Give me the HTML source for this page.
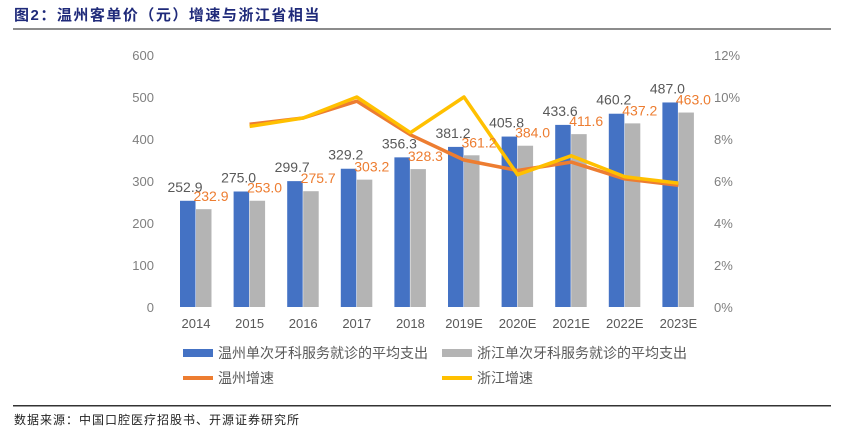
<!DOCTYPE html>
<html><head><meta charset="utf-8"><style>
body{margin:0;background:#fff;width:845px;height:434px;overflow:hidden;font-family:"Liberation Sans","Noto Sans CJK SC",sans-serif;}
</style></head><body>
<svg id="c" width="845" height="434" xmlns="http://www.w3.org/2000/svg"></svg>
<script>
const categories=["2014","2015","2016","2017","2018","2019E","2020E","2021E","2022E","2023E"];
const wzSpend=[252.9,275.0,299.7,329.2,356.3,381.2,405.8,433.6,460.2,487.0];
const zjSpend=[232.9,253.0,275.7,303.2,328.3,361.2,384.0,411.6,437.2,463.0];
const wzGrowth=[null,8.7,9.0,9.8,8.2,7.0,6.5,6.9,6.1,5.8];
const zjGrowth=[null,8.6,9.0,10.0,8.3,10.0,6.3,7.2,6.2,5.9];
const leftTicks=[0,100,200,300,400,500,600];
const rightTicks=[0,2,4,6,8,10,12];
const svg=document.getElementById('c');
const NS="http://www.w3.org/2000/svg";
function mk(t,a,txt){const e=document.createElementNS(NS,t);for(const k in a)e.setAttribute(k,a[k]);if(txt!==undefined)e.textContent=txt;svg.appendChild(e);return e;}
const y0=307,yTop=55;
const yL=v=>y0-(v/600)*(y0-yTop);
const yR=v=>y0-(v/12)*(y0-yTop);
const xC=i=>196+i*53.6;
let e;
e=mk('text',{x:14,y:20,'font-size':15,'font-weight':'bold',fill:'#1f2a7a','letter-spacing':'1.5'},'图2：温州客单价（元）增速与浙江省相当');

e=mk('rect',{x:13,y:28,width:818,height:2,fill:'#8c8c8c'});

leftTicks.forEach(v=>{e=mk('text',{x:154,y:yL(v)+5,'font-size':13,fill:'#7f7f7f','text-anchor':'end'},v);
});
rightTicks.forEach(v=>{e=mk('text',{x:714,y:yR(v)+5,'font-size':13,fill:'#7f7f7f'},v+'%');
});
categories.forEach((c,i)=>{e=mk('text',{x:xC(i),y:328,'font-size':13,fill:'#595959','text-anchor':'middle'},c);
});
categories.forEach((c,i)=>{
 const x=xC(i);
 e=mk('rect',{x:x-16,y:yL(wzSpend[i]),width:15.5,height:y0-yL(wzSpend[i]),fill:'#4472c4'});
 
 e=mk('rect',{x:x,y:yL(zjSpend[i]),width:15.5,height:y0-yL(zjSpend[i]),fill:'#b4b4b4'});
 
});
function line(arr,color,w,name){
 let d='';arr.forEach((v,i)=>{if(v==null)return;d+=(d?'L':'M')+xC(i)+' '+yR(v);});
 e=mk('path',{d:d,fill:'none',stroke:color,'stroke-width':w,'stroke-linejoin':'round'});
 
}
line(wzGrowth,'#ed7d31',3.5,'wenzhou-growth-line');
line(zjGrowth,'#ffc000',3.5,'zhejiang-growth-line');
categories.forEach((c,i)=>{
 const x=xC(i);
 e=mk('text',{x:x-11,y:yL(wzSpend[i])-9,'font-size':14,fill:'#595959','text-anchor':'middle'},wzSpend[i].toFixed(1));
 
 e=mk('text',{x:x+15,y:yL(zjSpend[i])-8,'font-size':14,fill:'#ed7d31','text-anchor':'middle'},zjSpend[i].toFixed(1));
 
});
const leg=[[183,353,'rect','#4472c4','温州单次牙科服务就诊的平均支出'],[442,353,'rect','#b4b4b4','浙江单次牙科服务就诊的平均支出'],[183,378,'line','#ed7d31','温州增速'],[442,378,'line','#ffc000','浙江增速']];
leg.forEach(l=>{
 if(l[2]=='rect')e=mk('rect',{x:l[0],y:l[1]-4,width:30,height:8,fill:l[3]});
 else e=mk('rect',{x:l[0],y:l[1]-2,width:30,height:4,fill:l[3]});
 
 e=mk('text',{x:l[0]+35,y:l[1]+5,'font-size':14,fill:'#595959'},l[4]);
 
});
e=mk('rect',{x:13,y:405,width:818,height:1.5,fill:'#333'});

e=mk('text',{x:14,y:424,'font-size':12,fill:'#222','letter-spacing':'1'},'数据来源：中国口腔医疗招股书、开源证券研究所');

</script>
</body></html>
